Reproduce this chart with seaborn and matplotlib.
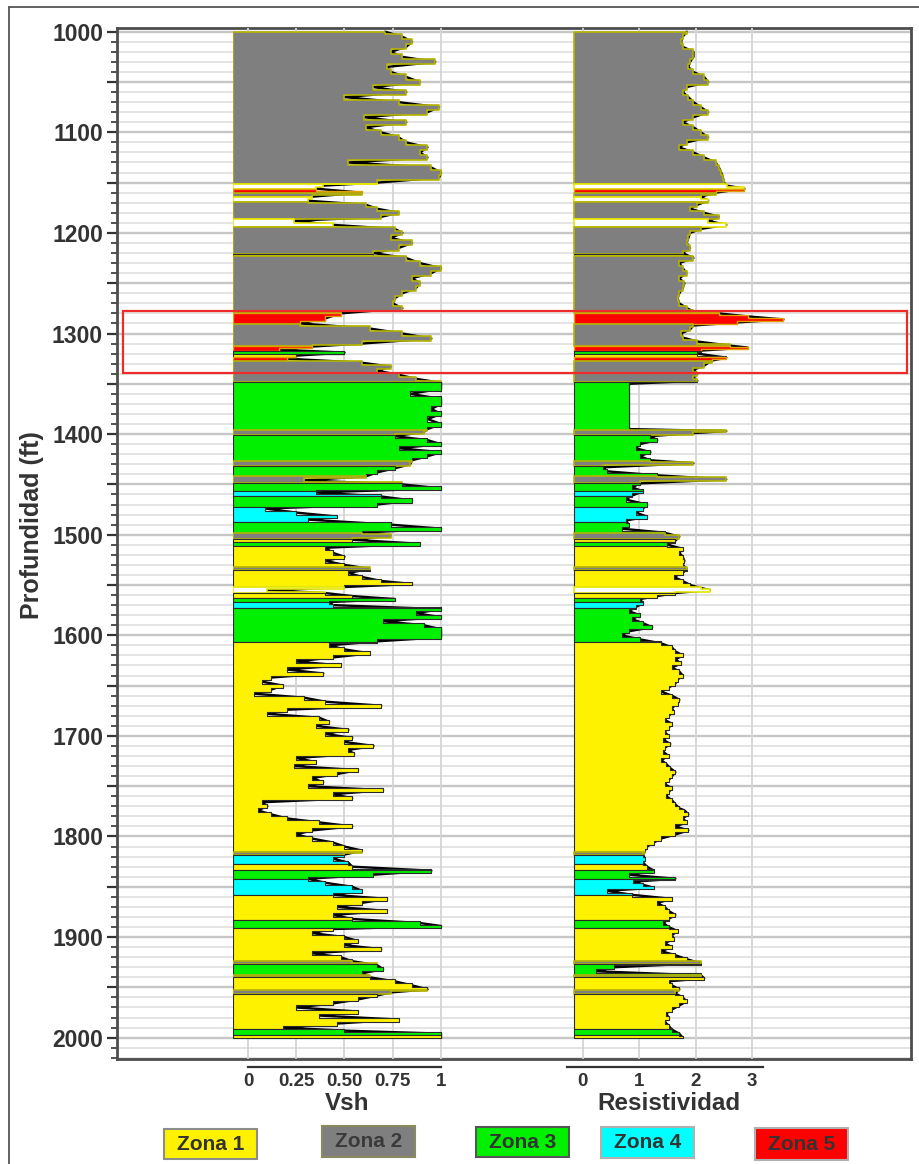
import numpy as np
import matplotlib
matplotlib.use("Agg")
import matplotlib.pyplot as plt
import seaborn as sns
from matplotlib.patches import Rectangle
from matplotlib.lines import Line2D
from matplotlib.ticker import MultipleLocator

# ---------------- data ----------------
vsh_depth = [1000, 1005, 1010, 1015, 1020, 1025, 1030, 1035, 1040, 1045, 1050, 1055, 1060, 1065, 1070,
             1075, 1080, 1085, 1090, 1095, 1100, 1105, 1110, 1115, 1120, 1125, 1130, 1135, 1140, 1145,
             1150, 1153, 1156, 1160, 1164, 1168, 1172, 1176, 1180, 1184, 1188, 1192, 1196, 1200, 1205,
             1210, 1215, 1220, 1225, 1230, 1235, 1240, 1245, 1250, 1255, 1260, 1265, 1270, 1275, 1280,
             1285, 1290, 1295, 1300, 1305, 1310, 1313, 1316, 1319, 1322, 1325, 1329, 1333, 1337, 1341,
             1345, 1349, 1355, 1360, 1365, 1370, 1375, 1380, 1385, 1390, 1395, 1398, 1402, 1406, 1410,
             1414, 1418, 1422, 1426, 1430, 1434, 1438, 1442, 1446, 1450, 1454, 1458, 1462, 1466, 1470,
             1474, 1478, 1482, 1485, 1490, 1494, 1498, 1501, 1505, 1509, 1513, 1518, 1522, 1526, 1530,
             1534, 1538, 1542, 1546, 1549, 1552, 1555, 1558, 1561, 1564, 1567, 1570, 1574, 1578, 1582,
             1586, 1590, 1594, 1598, 1602, 1606, 1610, 1614, 1618, 1622, 1626, 1630, 1634, 1638, 1642,
             1646, 1650, 1654, 1658, 1662, 1666, 1670, 1674, 1678, 1682, 1686, 1690, 1694, 1698, 1702,
             1706, 1710, 1714, 1718, 1722, 1726, 1730, 1734, 1738, 1742, 1746, 1750, 1754, 1758, 1762,
             1766, 1770, 1774, 1778, 1782, 1786, 1790, 1794, 1798, 1802, 1806, 1810, 1814, 1818, 1822,
             1826, 1830, 1834, 1838, 1842, 1846, 1850, 1854, 1858, 1862, 1866, 1870, 1874, 1878, 1882,
             1886, 1889, 1892, 1896, 1900, 1904, 1908, 1912, 1916, 1920, 1924, 1928, 1932, 1936, 1940,
             1944, 1948, 1952, 1955, 1958, 1962, 1966, 1970, 1974, 1978, 1982, 1986, 1990, 1993, 1996,
             2000]
vsh = [0.71, 0.80, 0.85, 0.82, 0.74, 0.80, 0.97, 0.72, 0.74, 0.82, 0.89, 0.65, 0.82, 0.50, 0.78,
       0.99, 0.93, 0.60, 0.82, 0.61, 0.69, 0.78, 0.82, 0.93, 0.89, 0.93, 0.52, 0.95, 1.00, 0.99,
       0.67, 0.39, 0.35, 0.59, 0.33, 0.31, 0.61, 0.67, 0.78, 0.69, 0.24, 0.44, 0.76, 0.80, 0.74,
       0.85, 0.78, 0.65, 0.82, 0.89, 1.00, 0.95, 0.85, 0.89, 0.87, 0.80, 0.76, 0.75, 0.80, 0.48,
       0.40, 0.27, 0.63, 0.80, 0.95, 0.59, 0.33, 0.16, 0.50, 0.25, 0.20, 0.59, 0.74, 0.67, 0.78,
       0.87, 1.00, 1.00, 0.84, 1.00, 1.00, 0.95, 1.00, 0.93, 1.00, 0.93, 0.91, 0.76, 0.93, 1.00,
       0.78, 1.00, 0.93, 0.85, 0.84, 0.76, 0.67, 0.61, 0.29, 0.80, 1.00, 0.35, 0.69, 0.85, 0.67,
       0.09, 0.25, 0.46, 0.31, 0.74, 1.00, 0.59, 0.74, 0.54, 0.89, 0.40, 0.44, 0.50, 0.40, 0.50,
       0.63, 0.52, 0.59, 0.69, 0.85, 0.50, 0.10, 0.40, 0.54, 0.76, 0.42, 0.44, 1.00, 0.87, 1.00,
       0.70, 0.91, 1.00, 1.00, 1.00, 0.67, 0.42, 0.50, 0.63, 0.44, 0.25, 0.48, 0.20, 0.39, 0.12,
       0.07, 0.18, 0.12, 0.03, 0.29, 0.40, 0.69, 0.20, 0.10, 0.37, 0.42, 0.35, 0.52, 0.40, 0.54,
       0.50, 0.65, 0.52, 0.55, 0.25, 0.35, 0.24, 0.57, 0.46, 0.33, 0.39, 0.31, 0.70, 0.44, 0.54,
       0.07, 0.10, 0.05, 0.12, 0.20, 0.37, 0.54, 0.33, 0.25, 0.33, 0.44, 0.50, 0.59, 0.50, 0.44,
       0.52, 0.54, 0.95, 0.65, 0.31, 0.40, 0.54, 0.59, 0.44, 0.72, 0.59, 0.46, 0.72, 0.44, 0.54,
       0.89, 1.00, 0.44, 0.33, 0.50, 0.57, 0.50, 0.69, 0.33, 0.48, 0.54, 0.67, 0.70, 0.59, 0.63,
       0.76, 0.85, 0.93, 0.74, 0.67, 0.57, 0.44, 0.25, 0.57, 0.37, 0.78, 0.46, 0.18, 0.50, 1.00,
       1.00]

res_depth = [1000, 1005, 1010, 1015, 1020, 1025, 1030, 1035, 1040, 1045, 1050, 1055, 1060, 1065, 1070,
             1075, 1080, 1085, 1090, 1095, 1100, 1105, 1110, 1115, 1120, 1125, 1130, 1135, 1140, 1145,
             1150, 1153, 1156, 1160, 1164, 1168, 1172, 1176, 1180, 1184, 1188, 1192, 1196, 1200, 1205,
             1210, 1215, 1220, 1225, 1230, 1235, 1240, 1245, 1250, 1255, 1260, 1265, 1270, 1275, 1278,
             1280, 1283, 1286, 1289, 1292, 1296, 1300, 1304, 1308, 1312, 1314, 1317, 1320, 1324, 1327,
             1332, 1336, 1340, 1344, 1347, 1350, 1360, 1370, 1380, 1390, 1395, 1397, 1399, 1402, 1406,
             1410, 1414, 1418, 1422, 1426, 1429, 1433, 1437, 1441, 1445, 1449, 1453, 1457, 1461, 1465,
             1470, 1474, 1478, 1482, 1486, 1490, 1494, 1498, 1502, 1506, 1510, 1514, 1518, 1522, 1526,
             1530, 1534, 1538, 1542, 1546, 1550, 1553, 1555, 1558, 1561, 1564, 1568, 1572, 1576, 1580,
             1584, 1588, 1592, 1596, 1600, 1604, 1608, 1612, 1616, 1620, 1624, 1628, 1632, 1636, 1640,
             1644, 1648, 1652, 1656, 1660, 1664, 1668, 1672, 1676, 1680, 1684, 1688, 1692, 1696, 1700,
             1704, 1708, 1712, 1716, 1720, 1724, 1728, 1732, 1736, 1740, 1744, 1748, 1752, 1756, 1760,
             1764, 1768, 1772, 1774, 1778, 1782, 1786, 1790, 1794, 1798, 1802, 1806, 1810, 1814, 1818,
             1822, 1826, 1830, 1834, 1838, 1842, 1845, 1848, 1851, 1854, 1858, 1862, 1866, 1870, 1874,
             1878, 1882, 1886, 1890, 1894, 1898, 1902, 1906, 1910, 1914, 1918, 1922, 1926, 1930, 1934,
             1938, 1941, 1944, 1948, 1952, 1956, 1960, 1964, 1968, 1972, 1976, 1980, 1984, 1988, 1992,
             1996, 2000]
res = [1.84, 1.77, 1.74, 1.77, 1.96, 1.96, 1.90, 1.87, 1.96, 2.15, 2.22, 1.84, 1.77, 1.87, 1.96,
       2.09, 2.22, 1.96, 1.77, 1.96, 2.09, 2.22, 1.84, 1.71, 1.96, 2.15, 2.35, 2.41, 2.45, 2.48,
       2.50, 2.55, 2.86, 2.35, 2.09, 2.22, 2.03, 1.90, 2.15, 2.41, 2.22, 2.54, 2.09, 1.90, 1.87,
       1.84, 1.90, 1.77, 1.96, 1.71, 1.77, 1.84, 1.71, 1.80, 1.77, 1.71, 1.68, 1.71, 1.85, 1.96,
       2.41, 2.92, 3.55, 2.73, 1.96, 1.90, 1.74, 1.77, 2.03, 2.60, 2.92, 2.09, 2.03, 2.54, 2.28,
       2.15, 1.96, 2.03, 1.96, 2.03, 0.82, 0.82, 0.82, 0.82, 0.82, 0.82, 2.54, 1.96, 1.20, 1.32,
       1.01, 0.94, 1.20, 1.01, 1.20, 1.96, 0.37, 0.43, 1.32, 2.54, 1.01, 0.88, 1.07, 0.88, 0.76,
       1.14, 1.07, 0.94, 1.14, 0.76, 0.82, 0.69, 1.45, 1.71, 1.64, 1.50, 1.77, 1.71, 1.77, 1.80,
       1.77, 1.84, 1.77, 1.61, 1.77, 1.90, 2.09, 2.25, 1.64, 1.32, 1.01, 1.07, 0.94, 0.82, 1.01,
       0.88, 1.07, 1.23, 0.82, 0.69, 1.01, 1.39, 1.58, 1.64, 1.77, 1.64, 1.74, 1.58, 1.71, 1.77,
       1.68, 1.64, 1.52, 1.39, 1.58, 1.71, 1.68, 1.58, 1.61, 1.52, 1.45, 1.58, 1.52, 1.45, 1.52,
       1.43, 1.55, 1.45, 1.43, 1.52, 1.39, 1.48, 1.55, 1.64, 1.58, 1.52, 1.45, 1.58, 1.52, 1.48,
       1.58, 1.64, 1.71, 1.80, 1.87, 1.77, 1.84, 1.64, 1.87, 1.64, 1.39, 1.26, 1.14, 1.10, 1.07,
       1.10, 1.07, 1.14, 1.26, 0.82, 1.64, 0.90, 1.07, 1.26, 0.43, 0.88, 1.58, 1.32, 1.45, 1.52,
       1.64, 1.52, 1.43, 1.52, 1.68, 1.58, 1.61, 1.45, 1.58, 1.39, 1.64, 1.84, 2.09, 0.56, 0.24,
       2.09, 2.15, 1.52, 1.58, 1.71, 1.64, 1.77, 1.84, 1.71, 1.58, 1.48, 1.52, 1.45, 1.52, 1.58,
       1.71, 1.77]

# zone boundaries (ft) and zone code for each interval (0 = sin zona)
zone_bounds = [1000, 1151, 1156, 1160, 1164, 1169, 1186, 1194, 1221, 1223,
               1280, 1291, 1312, 1317, 1320, 1323, 1327, 1348, 1396, 1401,
               1427, 1432, 1442, 1449, 1457, 1462, 1472, 1487, 1498, 1504,
               1507, 1511, 1532, 1535, 1552, 1558, 1563, 1567, 1573, 1607,
               1815, 1818, 1827, 1833, 1842, 1858, 1883, 1891, 1924, 1927,
               1938, 1939.5, 1953, 1957, 1991, 1997, 2000]
zone_codes = [2, 0, 5, 2, 0, 2, 0, 2, 1, 2,
              5, 2, 5, 3, 1, 5, 2, 3, 2, 3,
              2, 3, 2, 3, 4, 3, 4, 3, 2, 1,
              3, 1, 2, 1, 0, 1, 3, 4, 3, 1,
              2, 4, 1, 3, 4, 1, 3, 1, 2, 3,
              2, 1, 2, 1, 3, 1]

zone_names = ["Zona 1", "Zona 2", "Zona 3", "Zona 4", "Zona 5"]
vsh_ticks = [0, 0.25, 0.5, 0.75, 1]
vsh_ticklabels = ["0", "0.25", "0.50", "0.75", "1"]
res_ticks = [0, 1, 2, 3]
res_ticklabels = ["0", "1", "2", "3"]
box_depth = (1278, 1339)

# ---------------- style ----------------
sns.set_style("white")
plt.rcParams["font.family"] = ["Liberation Sans", "DejaVu Sans"]
TXT = "#333333"

zone_face = {0: "#ffffff", 1: "#fff200", 2: "#7f7f7f", 3: "#00f000", 4: "#00ffff", 5: "#ff0000"}
zone_edge = {0: "#e6e600", 1: "#2a2a2a", 2: "#b4b400", 3: "#2a2a2a", 4: "#2a2a2a", 5: "#e0a000"}
zone_lw = {0: 1.2, 1: 0.8, 2: 1.2, 3: 0.8, 4: 0.8, 5: 1.0}

W, H = 920, 1164
fig = plt.figure(figsize=(W / 100, H / 100), dpi=100)


def frect(x0, y0, x1, y1):
    return [x0 / W, 1 - y1 / H, (x1 - x0) / W, (y1 - y0) / H]


YTOP, YBOT = 996.3, 2021.2

# main axes: depth axis + horizontal grid
main = fig.add_axes(frect(117, 28, 911, 1059))
main.set_ylim(YBOT, YTOP)
main.set_xlim(0, 1)
main.set_xticks([])
ticks50 = list(range(1000, 2001, 50))
main.set_yticks(ticks50, labels=[str(t) if t % 100 == 0 else "" for t in ticks50])
main.yaxis.set_minor_locator(MultipleLocator(10))
main.grid(axis="y", which="major", color="#c6c6c6", lw=1.7)
main.grid(axis="y", which="minor", color="#dcdcdc", lw=1.1)
main.grid(axis="x", visible=False)
main.tick_params(axis="y", which="major", left=True, length=7, width=1.6, color="#333333", pad=3,
                 labelsize=16.5, labelcolor=TXT)
main.tick_params(axis="y", which="minor", left=True, length=4, width=1.2, color="#333333")
for s in main.spines.values():
    s.set_color("#4d4d4d")
    s.set_linewidth(2.0)
main.set_zorder(0)

zb = np.asarray(zone_bounds, float)
zc = np.asarray(zone_codes)


def draw_track(ax, depth, vals, base):
    depth = np.asarray(depth, float)
    vals = np.asarray(vals, float)
    edges = np.concatenate([[depth[0]], (depth[1:] + depth[:-1]) / 2, [depth[-1]]])
    inner = zb[(zb > depth[0]) & (zb < depth[-1])]
    cuts = np.unique(np.concatenate([edges, inner]))
    centers = (cuts[:-1] + cuts[1:]) / 2
    pval = vals[np.searchsorted(edges, centers) - 1]
    pzone = zc[np.searchsorted(zb, centers) - 1]
    n = len(centers)
    start = 0
    for k in range(1, n + 1):
        if k == n or pzone[k] != pzone[start]:
            z = int(pzone[start])
            y = cuts[start:k + 1]
            x = np.append(pval[start:k], pval[k - 1])
            ax.fill_betweenx(y, base, x, step="post", facecolor=zone_face[z],
                             edgecolor=zone_edge[z], linewidth=zone_lw[z], zorder=3)
            start = k
    sns.lineplot(x=vals, y=depth, orient="y", sort=False, estimator=None,
                 color="black", lw=1.7, ax=ax, zorder=2, legend=False)


def setup_track(ax, xlim, ticks, labels, bounds):
    ax.set_facecolor("none")
    ax.set_ylim(YBOT, YTOP)
    ax.set_xlim(*xlim)
    ax.set_yticks([])
    ax.set_xticks(ticks, labels=labels)
    ax.grid(axis="x", color="#d4d4d4", lw=1.3)
    ax.grid(axis="y", visible=False)
    ax.set_axisbelow(True)
    for side in ("top", "left", "right"):
        ax.spines[side].set_visible(False)
    sp = ax.spines["bottom"]
    sp.set_position(("outward", 5.8))
    sp.set_bounds(*bounds)
    sp.set_color("#333333")
    sp.set_linewidth(1.6)
    ax.tick_params(axis="x", length=0, pad=4, labelsize=13.5, labelcolor=TXT)
    ax.set_xlabel("")
    ax.set_ylabel("")


# Vsh track: value 0 at 248 px, 1 at 441 px
V0, VS = 248.0, 193.0
ax_v = fig.add_axes(frect(233, 28, 460, 1059))
ax_v.set_zorder(1)
draw_track(ax_v, vsh_depth, vsh, (233 - V0) / VS)
setup_track(ax_v, ((233 - V0) / VS, (460 - V0) / VS), vsh_ticks, vsh_ticklabels, (0, 1))

# Resistivity track: value 0 at 582.5 px, 56.6 px per unit
R0, RS = 582.5, 56.6
ax_r = fig.add_axes(frect(560, 28, 790, 1059))
ax_r.set_zorder(1)
draw_track(ax_r, res_depth, res, (573.8 - R0) / RS)
setup_track(ax_r, ((560 - R0) / RS, (790 - R0) / RS), res_ticks, res_ticklabels,
            ((567 - R0) / RS, (763 - R0) / RS))

# top overlay for the highlighted interval
ax_top = fig.add_axes(frect(117, 28, 911, 1059))
ax_top.set_zorder(2)
ax_top.set_facecolor("none")
ax_top.set_ylim(YBOT, YTOP)
ax_top.set_xlim(0, 1)
ax_top.axis("off")
ax_top.add_patch(Rectangle((6 / 794, box_depth[0]), 784 / 794, box_depth[1] - box_depth[0],
                           fill=False, edgecolor="#ee2a2a", lw=1.6))

# labels
fig.text(32 / W, 1 - 525 / H, "Profundidad (ft)", rotation=90, ha="center", va="center",
         fontsize=18, fontweight="bold", color=TXT)
fig.text(347 / W, 1 - 1103 / H, "Vsh", ha="center", va="center",
         fontsize=17.5, fontweight="bold", color=TXT)
fig.text(669 / W, 1 - 1103 / H, "Resistividad", ha="center", va="center",
         fontsize=17.5, fontweight="bold", color=TXT)

# zone legend boxes
boxes = [(164, 1129, 257, 1159), (322, 1126, 415, 1157), (476, 1127, 569, 1157),
         (601, 1127, 694, 1158), (755, 1128, 848, 1160)]
box_edges = ["#8c8c8c", "#8a8a60", "#555555", "#b0b0b0", "#b0b0b0"]
for i, (name, (x0, y0, x1, y1)) in enumerate(zip(zone_names, boxes)):
    fig.add_artist(Rectangle((x0 / W, 1 - y1 / H), (x1 - x0) / W, (y1 - y0) / H,
                             transform=fig.transFigure, facecolor=zone_face[i + 1],
                             edgecolor=box_edges[i], lw=1.5))
    fig.text((x0 + x1) / 2 / W, 1 - (y0 + y1) / 2 / H, name, ha="center", va="center",
             fontsize=15, fontweight="bold", color="#3a3a3a" if i == 1 else TXT)

# outer frame (top & left)
fig.add_artist(Line2D([9 / W, 9 / W], [0, 1 - 7 / H], transform=fig.transFigure,
                      color="#555555", lw=1.3))
fig.add_artist(Line2D([9 / W, 1], [1 - 7 / H, 1 - 7 / H], transform=fig.transFigure,
                      color="#555555", lw=1.3))

# bold tick labels (applied after layout so the final tick objects are styled)
fig.canvas.draw()
for a in (main, ax_v, ax_r):
    for lbl in a.get_xticklabels() + a.get_yticklabels():
        lbl.set_fontweight("bold")

fig.savefig("out.png", dpi=100)
